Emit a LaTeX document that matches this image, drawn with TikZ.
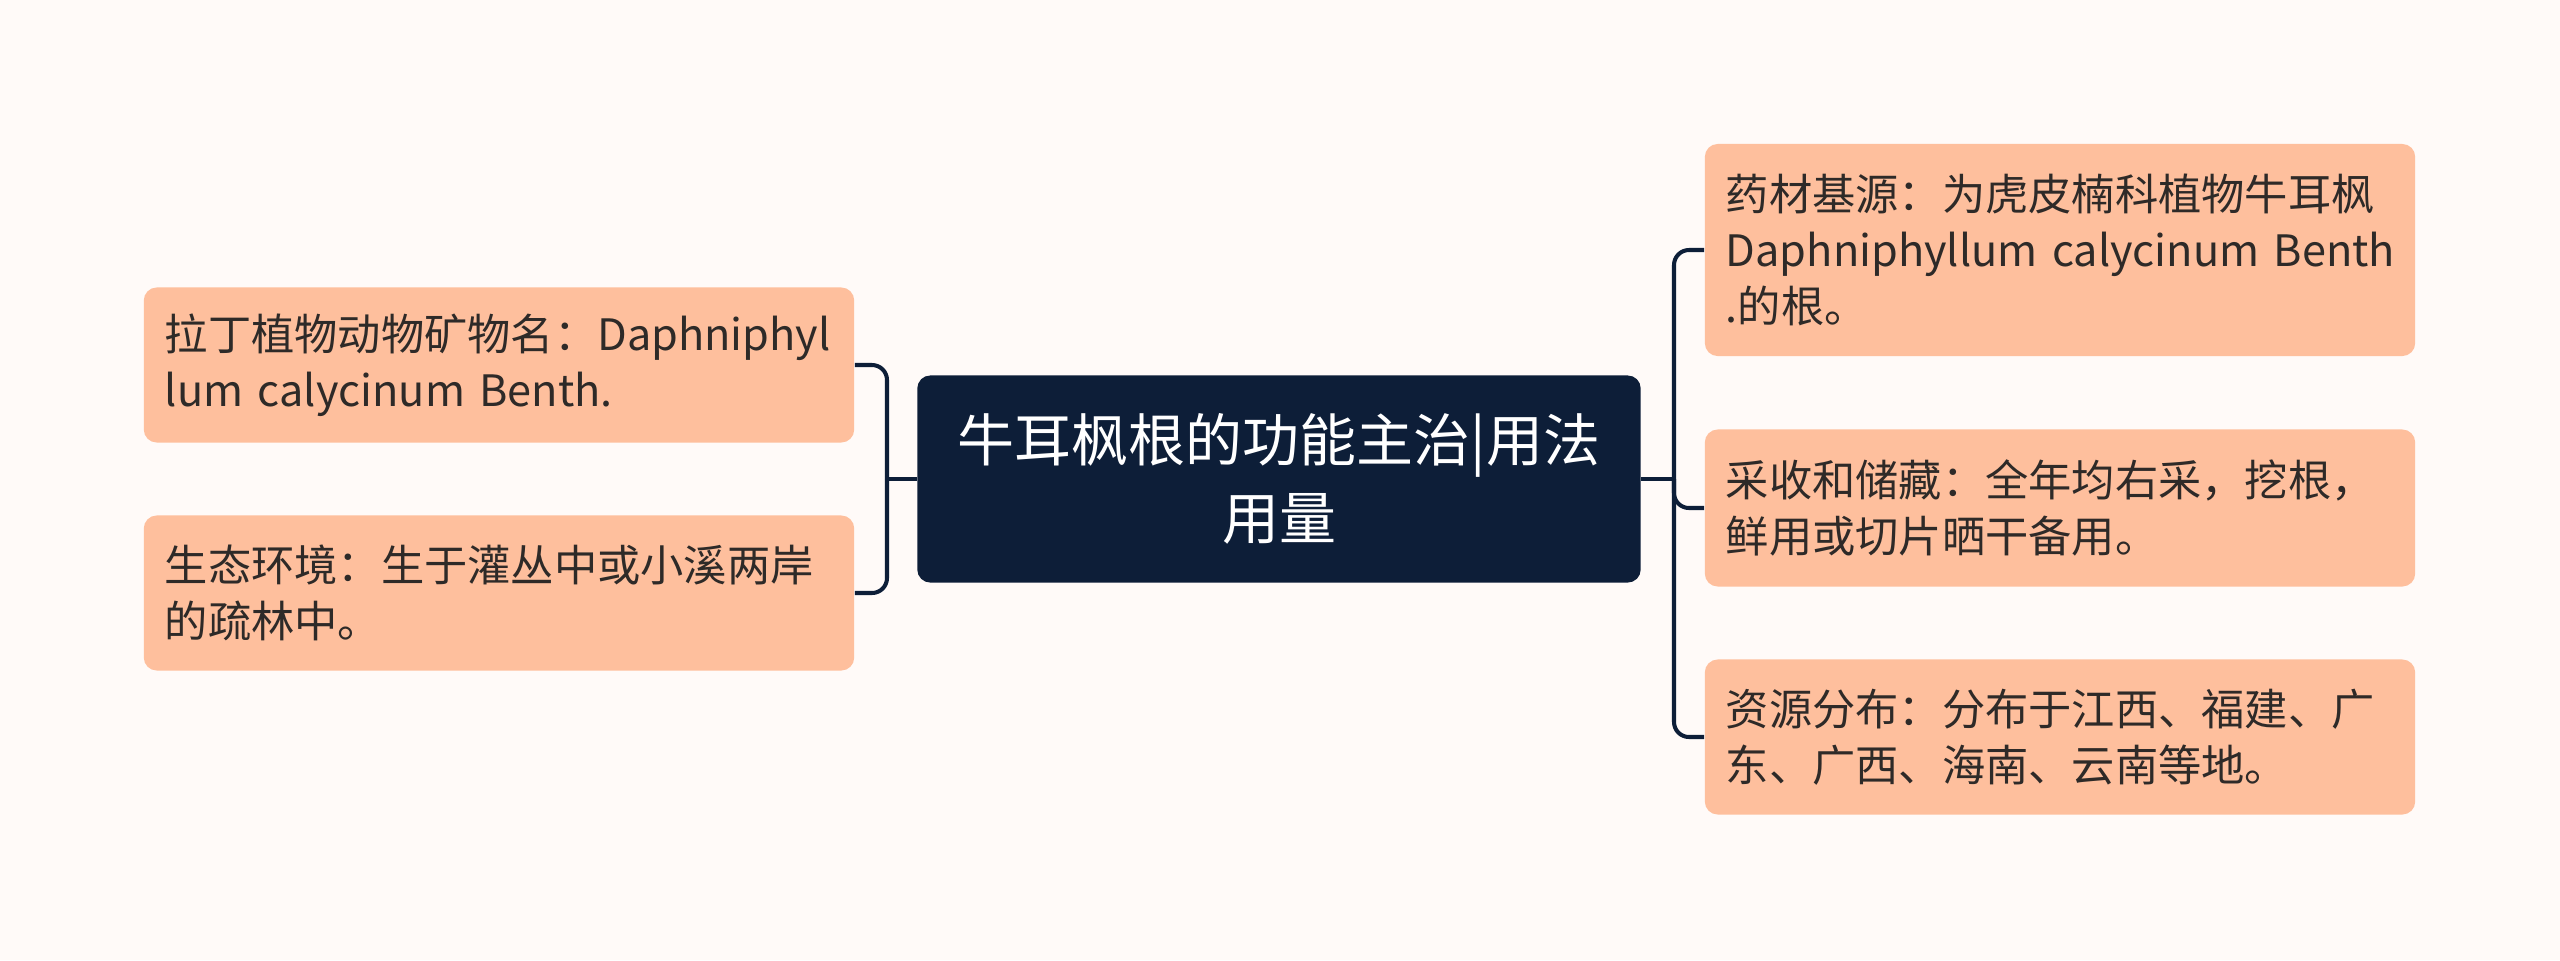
\documentclass[tikz,border=0pt]{standalone}
\usepackage{fontspec}
\setmainfont{Noto Sans CJK SC}
\usetikzlibrary{positioning}
\definecolor{pagebg}{HTML}{FFFAF8}
\definecolor{leafpeach}{HTML}{FEBF9D}
\definecolor{rootnavy}{HTML}{0D1E38}
\definecolor{leaftext}{HTML}{2E2A28}

\begin{document}
\begin{tikzpicture}[
    x=0.01cm, y=-0.01cm,
    leaf/.style={rectangle, rounded corners=0.13cm, fill=leafpeach, text=leaftext, align=left,
        text width=6.68cm, inner xsep=0.21cm, inner ysep=0pt, minimum height=1.55cm,
        font=\fontsize{12.3}{15.8}\selectfont},
    root/.style={rectangle, rounded corners=0.13cm, fill=rootnavy, text=white, align=center,
        minimum width=7.23cm, minimum height=2.07cm, inner sep=0pt,
        font=\fontsize{16.2}{22}\selectfont},
    link/.style={draw=rootnavy, line width=1.15pt, rounded corners=0.15cm}
]
\fill[pagebg] (0,0) rectangle (2560,960);
\useasboundingbox (0,0) rectangle (2560,960);

\node[root] (herb) at (1279,479) {牛耳枫根的功能主治|用法\\用量};

\node[leaf] (latin) at (499,365) {拉丁植物动物矿物名：Daphniphyl\\lum calycinum Benth.};
\node[leaf] (habitat) at (499,593) {生态环境：生于灌丛中或小溪两岸\\的疏林中。};

\node[leaf, minimum height=2.12cm] (source) at (2060,250) {药材基源：为虎皮楠科植物牛耳枫\\\mbox{Daphniphyllum calycinum Benth}\\.的根。};
\node[leaf, minimum height=1.57cm] (harvest) at (2060,508) {采收和储藏：全年均右采，挖根，\\鲜用或切片晒干备用。};
\node[leaf] (range) at (2060,737) {资源分布：分布于江西、福建、广\\东、广西、海南、云南等地。};

% left branches
\coordinate (lj) at (887,479);
\draw[link] (herb.west) -- (lj);
\draw[link] (lj) |- (latin.east);
\draw[link] (lj) |- (habitat.east);

% right branches
\coordinate (rj) at (1674,479);
\draw[link] (herb.east) -- (rj);
\draw[link] (rj) |- (source.west);
\draw[link] (rj) |- (harvest.west);
\draw[link] (rj) |- (range.west);
\end{tikzpicture}
\end{document}
